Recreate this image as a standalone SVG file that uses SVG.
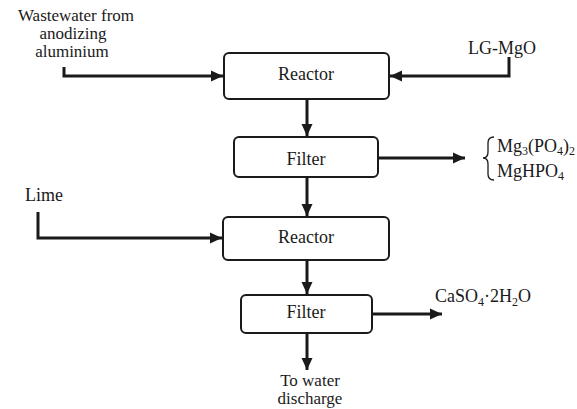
<svg xmlns="http://www.w3.org/2000/svg" width="577" height="409" viewBox="0 0 577 409">
<defs>
<marker id="ah" markerUnits="userSpaceOnUse" markerWidth="14" markerHeight="14" refX="12" refY="7" orient="auto">
<path d="M0,1.5 L12,7 L0,12.5 Z" fill="#1a1a1a"/>
</marker>
</defs>
<style>
.box{fill:#fff;stroke:#1a1a1a;stroke-width:2}
.ln{fill:none;stroke:#1a1a1a;stroke-width:3;marker-end:url(#ah)}
text{font-family:"Liberation Serif","Times New Roman",serif;font-size:18px;fill:#1a1a1a}
.c{text-anchor:middle}
.m{font-size:17px}
.sub{font-size:12px}
</style>
<rect x="0" y="0" width="577" height="409" fill="#fff"/>
<g id="connectors">
<path class="ln" d="M64,67 V76 H223"/>
<path class="ln" d="M509,57 V76 H390"/>
<path class="ln" d="M307,99 V136"/>
<path class="ln" d="M378,158 H465"/>
<path class="ln" d="M307,177 V216"/>
<path class="ln" d="M38,212 V238 H222"/>
<path class="ln" d="M307,260 V294"/>
<path class="ln" d="M372,314 H442"/>
<path class="ln" d="M307,333 V370"/>
</g>
<g id="reactor1"><rect class="box" x="224" y="53" width="165" height="46" rx="5"/><text class="c" x="306" y="80">Reactor</text></g>
<g id="filter1"><rect class="box" x="234" y="137" width="144" height="40" rx="5"/><text class="c" x="306" y="165">Filter</text></g>
<g id="reactor2"><rect class="box" x="223" y="217" width="166" height="43" rx="5"/><text class="c" x="306" y="243">Reactor</text></g>
<g id="filter2"><rect class="box" x="241" y="295" width="131" height="38" rx="5"/><text class="c" x="306" y="318">Filter</text></g>
<g id="wastewater"><text class="c m" x="76" y="21">Wastewater from<tspan x="73" dy="18">anodizing</tspan><tspan x="72" dy="18">aluminium</tspan></text></g>
<g id="lgmgo"><text x="468" y="54">LG-MgO</text></g>
<g id="lime"><text x="25" y="201">Lime</text></g>
<g id="products1">
<path d="M494,137 Q488,137 488,143 L488,152 Q488,158 483,158 Q488,158 488,164 L488,174 Q488,180 494,180" fill="none" stroke="#1a1a1a" stroke-width="1.3"/>
<text x="497" y="152">Mg<tspan class="sub" dy="3">3</tspan><tspan dy="-3">(PO</tspan><tspan class="sub" dy="3">4</tspan><tspan dy="-3">)</tspan><tspan class="sub" dy="3">2</tspan></text>
<text x="497" y="177">MgHPO<tspan class="sub" dy="3">4</tspan></text>
</g>
<g id="caso4"><text x="435" y="302">CaSO<tspan class="sub" dy="4">4</tspan><tspan dy="-4">·2H</tspan><tspan class="sub" dy="4">2</tspan><tspan dy="-4">O</tspan></text></g>
<g id="discharge"><text class="c m" x="310" y="386">To water<tspan x="310" dy="18">discharge</tspan></text></g>
</svg>
